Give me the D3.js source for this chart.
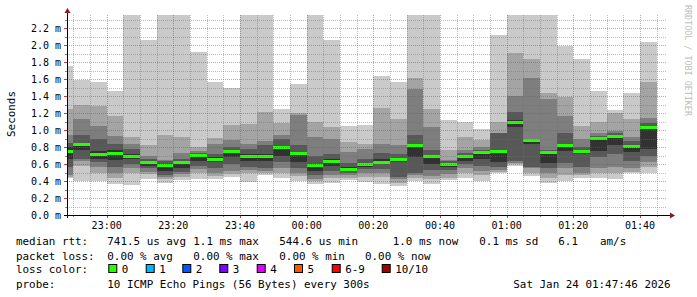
<!DOCTYPE html>
<html>
<head>
<meta charset="utf-8">
<script src="https://cdn.jsdelivr.net/npm/d3@7"></script>
<style>
  body { margin: 0; background: #fff; }
  text { font-family: "DejaVu Sans Mono", monospace; }
</style>
</head>
<body>
<svg id="chart" width="697" height="297"></svg>
<script>
// 5 minute bins (start time of each smoke column)
var binTimes = ["22:45","22:50","22:55","23:00","23:05","23:10","23:15","23:20","23:25","23:30",
  "23:35","23:40","23:45","23:50","23:55","00:00","00:05","00:10","00:15","00:20",
  "00:25","00:30","00:35","00:40","00:45","00:50","00:55","01:00","01:05","01:10",
  "01:15","01:20","01:25","01:30","01:35","01:40"]

// sorted ping rtts per bin, in ms (10 pings each)
var pingRows = [
  [0.43,0.45,0.47,0.57,0.66,0.80,0.843,0.94,1.247,1.753],
  [0.40,0.58,0.64,0.66,0.76,0.85,0.94,1.13,1.29,1.59],
  [0.40,0.49,0.57,0.62,0.66,0.75,0.90,1.05,1.28,1.56],
  [0.36,0.43,0.49,0.56,0.65,0.77,0.84,0.93,1.16,1.46],
  [0.35,0.49,0.55,0.60,0.66,0.72,0.78,0.84,0.92,2.6],
  [0.42,0.48,0.51,0.55,0.58,0.64,0.66,0.69,0.82,2.06],
  [0.38,0.42,0.45,0.47,0.52,0.60,0.63,0.65,0.94,2.6],
  [0.41,0.45,0.48,0.51,0.55,0.62,0.66,0.73,0.92,2.6],
  [0.42,0.50,0.54,0.58,0.64,0.71,0.73,0.75,0.80,1.92],
  [0.42,0.46,0.50,0.55,0.62,0.68,0.72,0.84,0.91,1.57],
  [0.45,0.48,0.52,0.60,0.68,0.76,0.80,0.88,1.06,1.49],
  [0.39,0.49,0.53,0.57,0.64,0.72,0.78,0.84,1.07,2.6],
  [0.47,0.49,0.52,0.55,0.63,0.72,0.82,0.875,1.215,2.6],
  [0.43,0.50,0.55,0.62,0.70,0.79,0.90,0.94,1.08,1.247],
  [0.40,0.46,0.50,0.55,0.62,0.73,0.82,1.18,1.20,1.54],
  [0.37,0.40,0.42,0.47,0.52,0.60,0.69,0.92,1.09,2.6],
  [0.38,0.43,0.47,0.52,0.58,0.66,0.72,0.89,1.04,2.06],
  [0.41,0.44,0.47,0.49,0.52,0.56,0.61,0.745,0.862,1.047],
  [0.39,0.45,0.50,0.54,0.57,0.61,0.66,0.78,0.835,1.06],
  [0.37,0.45,0.50,0.54,0.60,0.66,0.725,0.835,1.26,1.635],
  [0.345,0.38,0.42,0.45,0.62,0.67,0.72,0.82,1.13,1.565],
  [0.40,0.44,0.47,0.50,0.68,0.83,0.94,1.48,1.61,2.6],
  [0.37,0.42,0.46,0.53,0.60,0.71,0.765,1.04,1.247,2.6],
  [0.41,0.44,0.48,0.53,0.57,0.61,0.63,0.647,0.765,1.118],
  [0.44,0.49,0.55,0.60,0.64,0.71,0.73,0.76,0.92,1.098],
  [0.40,0.47,0.52,0.58,0.66,0.75,0.77,0.80,0.88,1.008],
  [0.49,0.51,0.53,0.56,0.62,0.76,0.96,0.97,1.098,2.118],
  [0.58,0.60,0.61,0.63,1.03,1.12,1.21,1.40,1.91,2.6],
  [0.46,0.50,0.55,0.57,0.84,0.89,0.90,1.61,1.83,2.6],
  [0.38,0.44,0.49,0.55,0.61,0.74,0.76,1.36,1.44,2.6],
  [0.40,0.47,0.55,0.61,0.75,0.83,0.96,1.165,1.385,1.99],
  [0.44,0.47,0.50,0.56,0.72,0.76,0.80,0.89,1.047,1.83],
  [0.44,0.50,0.55,0.68,0.75,0.92,0.93,0.96,1.10,1.46],
  [0.42,0.50,0.56,0.72,0.82,0.94,0.96,0.99,1.196,1.235],
  [0.49,0.51,0.55,0.63,0.74,0.82,0.867,0.92,1.13,1.43],
  [0.50,0.56,0.62,0.70,0.78,1.04,1.08,1.14,1.57,2.04]
]

// median rtt per bin, ms
var medians = [0.757,0.83,0.72,0.73,0.70,0.62,0.59,0.625,0.71,0.66,
  0.75,0.70,0.70,0.80,0.725,0.59,0.635,0.54,0.60,0.627,
  0.66,0.82,0.70,0.596,0.698,0.737,0.753,1.10,0.88,0.737,
  0.82,0.753,0.91,0.93,0.815,1.03]

var yTicks = [0.0,0.2,0.4,0.6,0.8,1.0,1.2,1.4,1.6,1.8,2.0,2.2]
var xTickLabels = ["23:00","23:20","23:40","00:00","00:20","00:40","01:00","01:20","01:40"]

var lossLabels = ["0","1","2","3","4","5","6-9","10/10"]
var lossColors = ["#26ff00","#00b8ff","#0059ff","#7e00ff","#dd00ff","#ff5500","#ff0000","#a10000"]

var rttStats = [["median rtt:",16],["741.5 us avg",107.3],["1.1 ms max",193.3],["544.6 us min",279.3],
  ["1.0 ms now",392.7],["0.1 ms sd",479.3],["6.1",558.3],["am/s",600]]
var lossStats = [["packet loss:",16],["0.00 % avg",107.3],["0.00 % max",193.3],["0.00 % min",279.3],["0.00 % now",365]]
var probeInfo = [["probe:",16],["10 ICMP Echo Pings (56 Bytes) every 300s",107.3],["Sat Jan 24 01:47:46 2026",513.3]]

var smokeGrays = ["#cacaca","#a4a4a4","#7e7e7e","#585858","#323232"]

var plot = { left: 67, right: 667, top: 15, bottom: 215 }
var binMs = 5 * 60 * 1000
var legendSize = 10.9

function toDate(hm){
  var p = hm.split(":").map(Number)
  // evening times belong to Jan 23, after midnight to Jan 24
  return new Date(Date.UTC(2026, 0, p[0] >= 12 ? 23 : 24, p[0], p[1]))
}

var svg = d3.select("#chart")

var xScale = d3.scaleUtc()
  .domain([new Date(Date.UTC(2026,0,23,22,48,6)), new Date(Date.UTC(2026,0,24,1,48,6))])
  .range([plot.left, plot.right])

var yScale = d3.scaleLinear()
  .domain([0, 200/85])
  .range([plot.bottom, plot.top])

svg.append("rect").attr("width", 697).attr("height", 297).attr("fill", "#fff")

svg.append("clipPath").attr("id", "plotclip")
  .append("rect")
    .attr("x", plot.left).attr("y", plot.top)
    .attr("width", plot.right - plot.left).attr("height", plot.bottom - plot.top)

var bins = binTimes.map(function(t, i){
  var start = toDate(t)
  return {
    x1: Math.max(xScale(start), plot.left),
    x2: xScale(new Date(+start + binMs)),
    pings: pingRows[i],
    median: medians[i]
  }
})

var g = svg.append("g").attr("clip-path", "url(#plotclip)")

// smoke: band k spans ping k .. ping (11-k)
smokeGrays.forEach(function(col, k){
  g.selectAll(".smoke" + k)
      .data(bins)
      .enter()
    .append("rect")
      .attr("x", function(d){ return d.x1 })
      .attr("width", function(d){ return d.x2 - d.x1 })
      .attr("y", function(d){ return yScale(d.pings[9 - k]) })
      .attr("height", function(d){ return yScale(d.pings[k]) - yScale(d.pings[9 - k]) })
      .attr("fill", col)
      .attr("shape-rendering", "crispEdges")
})

// median line, coloured by loss (all 0 loss here)
g.selectAll(".median")
    .data(bins)
    .enter()
  .append("rect")
    .attr("x", function(d){ return d.x1 })
    .attr("width", function(d){ return d.x2 - d.x1 })
    .attr("y", function(d){ return Math.round(yScale(d.median)) - 1.5 })
    .attr("height", 3)
    .attr("fill", lossColors[0])
    .attr("shape-rendering", "crispEdges")

// grid (drawn on top like rrdtool)
var majorCol = "rgba(210,50,50,0.5)"
var minorCol = "rgba(110,110,110,0.45)"
var grid = svg.append("g").attr("shape-rendering", "crispEdges")
var minorY = d3.range(1, 24).map(function(i){ return i / 10 })
minorY.forEach(function(v){
  var major = (Math.round(v * 10) % 2 == 0)
  grid.append("line")
    .attr("x1", plot.left).attr("x2", plot.right)
    .attr("y1", Math.round(yScale(v)) + 0.5).attr("y2", Math.round(yScale(v)) + 0.5)
    .attr("stroke", major ? majorCol : minorCol)
    .attr("stroke-dasharray", "1,1")
})
var minorX = xScale.ticks(d3.utcMinute.every(5))
minorX.forEach(function(t){
  var major = (t.getUTCMinutes() % 20 == 0)
  var px = Math.round(xScale(t)) + 0.5
  if (px <= plot.left + 1) return
  grid.append("line")
    .attr("x1", px).attr("x2", px)
    .attr("y1", plot.top).attr("y2", plot.bottom)
    .attr("stroke", major ? majorCol : minorCol)
    .attr("stroke-dasharray", "1,1")
  grid.append("line")
    .attr("x1", px).attr("x2", px)
    .attr("y1", plot.bottom).attr("y2", plot.bottom + (major ? 3 : 2))
    .attr("stroke", major ? "#c04040" : "#888")
})
minorY.concat([0]).forEach(function(v){
  var major = (Math.round(v * 10) % 2 == 0)
  grid.append("line")
    .attr("x1", plot.left - (major ? 3 : 2)).attr("x2", plot.left)
    .attr("y1", Math.round(yScale(v)) + 0.5).attr("y2", Math.round(yScale(v)) + 0.5)
    .attr("stroke", major ? "#c04040" : "#888")
})

// axes
svg.append("line")
  .attr("x1", plot.left + 0.5).attr("x2", plot.left + 0.5)
  .attr("y1", plot.bottom + 3).attr("y2", 11)
  .attr("stroke", "#000").attr("stroke-width", 1)
svg.append("line")
  .attr("x1", plot.left - 3).attr("x2", plot.right + 4)
  .attr("y1", plot.bottom + 0.5).attr("y2", plot.bottom + 0.5)
  .attr("stroke", "#000").attr("stroke-width", 1)
svg.append("path")
  .attr("d", "M" + (plot.left - 2.5) + ",13 L" + (plot.left + 0.5) + ",8 L" + (plot.left + 3.5) + ",13 Z")
  .attr("fill", "#8b1a1a")
svg.append("path")
  .attr("d", "M" + (plot.right + 3) + "," + (plot.bottom - 2.5) + " L" + (plot.right + 8) + "," + (plot.bottom + 0.5) + " L" + (plot.right + 3) + "," + (plot.bottom + 3.5) + " Z")
  .attr("fill", "#8b1a1a")

// y tick labels
svg.selectAll(".ylab")
    .data(yTicks)
    .enter()
  .append("text")
    .attr("x", 61)
    .attr("y", function(d){ return yScale(d) + 3.5 })
    .attr("text-anchor", "end")
    .attr("font-size", 10)
    .attr("fill", "#000")
    .text(function(d){ return d3.format(".1f")(d) + " m" })

// x tick labels
svg.selectAll(".xlab")
    .data(xTickLabels)
    .enter()
  .append("text")
    .attr("x", function(d){ return xScale(toDate(d)) })
    .attr("y", 228.5)
    .attr("text-anchor", "middle")
    .attr("font-size", 10)
    .attr("fill", "#000")
    .text(function(d){ return d })

svg.append("text")
  .attr("transform", "translate(15,114) rotate(-90)")
  .attr("text-anchor", "middle")
  .attr("font-size", legendSize)
  .text("Seconds")

svg.append("text")
  .attr("transform", "translate(685,5) rotate(90)")
  .attr("font-size", 8.4)
  .attr("fill", "#bdbdbd")
  .text("RRDTOOL / TOBI OETIKER")

// legend
function legendLine(items, baseline){
  items.forEach(function(it){
    svg.append("text")
      .attr("x", it[1]).attr("y", baseline)
      .attr("font-size", legendSize)
      .attr("fill", "#000")
      .attr("xml:space", "preserve")
      .text(it[0])
  })
}
legendLine(rttStats, 245)
legendLine(lossStats, 259.5)
legendLine([["loss color:", 16]], 273)
legendLine(probeInfo, 287.5)

var boxX = [108.3,145.7,182.3,219.3,256.7,294,331.7,381.7]
lossLabels.forEach(function(lbl, i){
  svg.append("rect")
    .attr("x", boxX[i] + 0.5).attr("y", 264.5)
    .attr("width", 8).attr("height", 8)
    .attr("fill", lossColors[i])
    .attr("stroke", "#000").attr("stroke-width", 1)
  svg.append("text")
    .attr("x", boxX[i] + 13.5).attr("y", 273)
    .attr("font-size", legendSize)
    .text(lbl)
})
</script>
</body>
</html>
